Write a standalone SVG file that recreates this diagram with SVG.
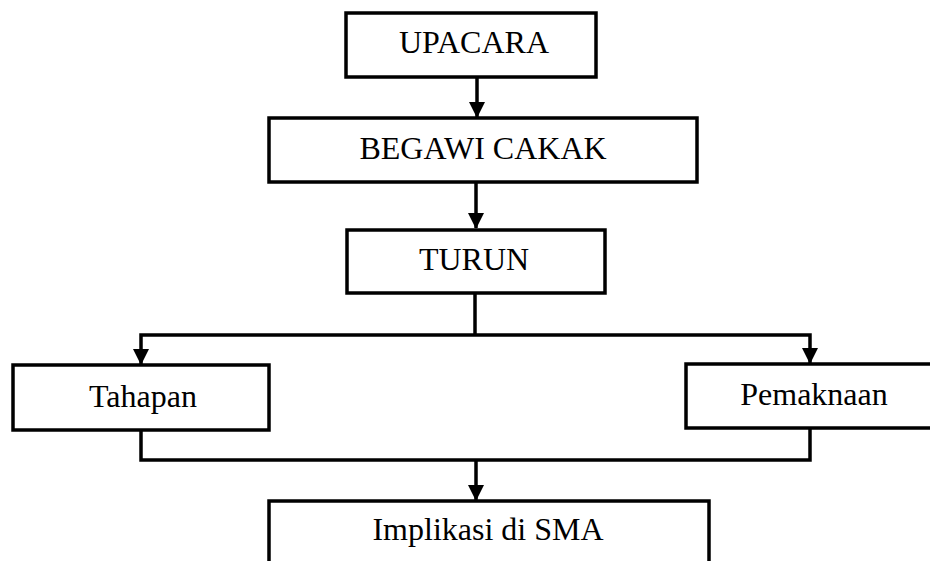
<svg xmlns="http://www.w3.org/2000/svg" width="930" height="561" viewBox="0 0 930 561">
<style>
.box{fill:#fff;stroke:#000;stroke-width:3.5;stroke-linejoin:miter}
.ln{fill:none;stroke:#000;stroke-width:3.5}
.t{font-family:"Liberation Serif","Times New Roman",serif;font-size:32px;fill:#000;text-anchor:middle}
</style>
<defs>
<marker id="ah" markerUnits="userSpaceOnUse" markerWidth="16" markerHeight="16" viewBox="0 0 16 16" refX="15" refY="8" orient="auto">
<path d="M0,0 L16,8 L0,16 Z" fill="#000"/>
</marker>
</defs>
<g id="connectors">
<line class="ln" x1="477" y1="77" x2="477" y2="117" marker-end="url(#ah)"/>
<line class="ln" x1="476" y1="182" x2="476" y2="228" marker-end="url(#ah)"/>
<polyline class="ln" points="475,293 475,335"/>
<polyline class="ln" points="475,335 141,335 141,364" marker-end="url(#ah)"/>
<polyline class="ln" points="475,335 810,335 810,363" marker-end="url(#ah)"/>
<polyline class="ln" points="141,430 141,460 810,460 810,428"/>
<line class="ln" x1="476" y1="460" x2="476" y2="500" marker-end="url(#ah)"/>
</g>
<g id="upacara">
<rect class="box" x="346" y="13" width="250" height="64"/>
<text class="t" x="474" y="53">UPACARA</text>
</g>
<g id="begawi-cakak">
<rect class="box" x="269" y="118" width="428" height="64"/>
<text class="t" x="483" y="159">BEGAWI CAKAK</text>
</g>
<g id="turun">
<rect class="box" x="347" y="230" width="258" height="63"/>
<text class="t" x="474" y="270">TURUN</text>
</g>
<g id="tahapan">
<rect class="box" x="13" y="365" width="256" height="65"/>
<text class="t" x="143" y="407">Tahapan</text>
</g>
<g id="pemaknaan">
<rect class="box" x="686" y="364" width="260" height="64"/>
<text class="t" x="814" y="405">Pemaknaan</text>
</g>
<g id="implikasi">
<rect class="box" x="269" y="501" width="440" height="80"/>
<text class="t" x="488" y="540">Implikasi di SMA</text>
</g>
</svg>
